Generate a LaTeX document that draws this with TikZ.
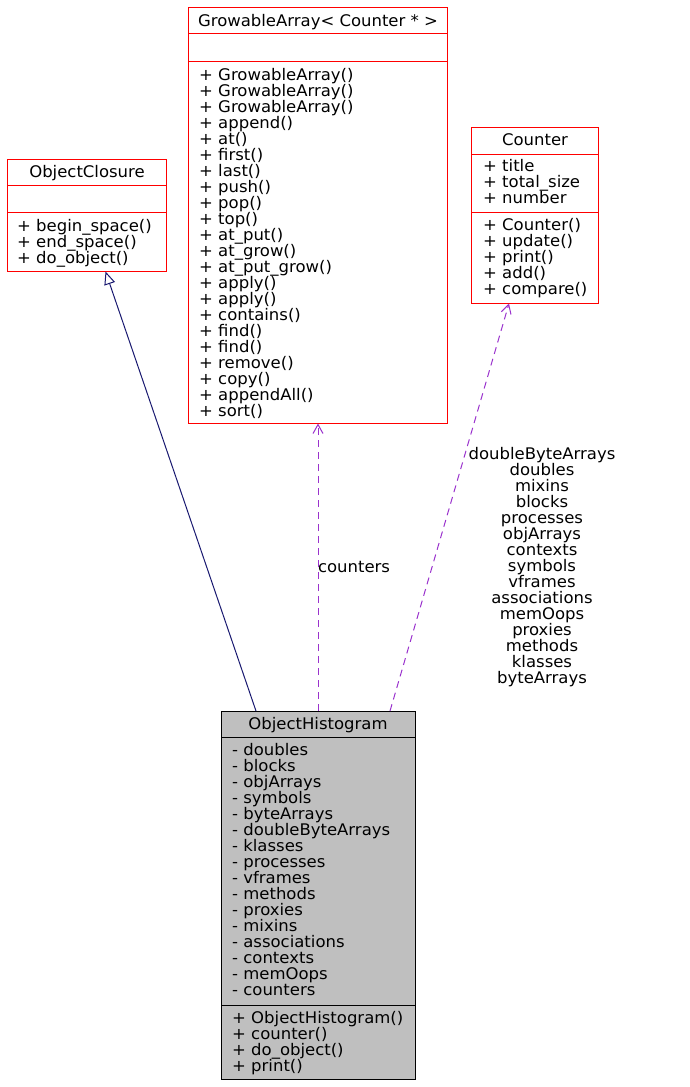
\documentclass[tikz,border=0pt]{standalone}
\usepackage{fontspec}
\setmainfont{DejaVu Sans}[FakeStretch=1.03]
\usetikzlibrary{arrows.meta}
\definecolor{edgeblue}{HTML}{191970}
\definecolor{usagepurple}{HTML}{9A32CD}
\definecolor{histgray}{HTML}{BFBFBF}
\definecolor{boxred}{HTML}{FF0000}
\newcommand{\memberfont}{\fontsize{16}{16}\selectfont}
\newcommand{\firstline}{\rule{0pt}{13pt}}
\lineskiplimit=-20pt

\begin{document}
\begin{tikzpicture}[x=1pt,y=-1pt,
    classbox/.style={inner sep=0pt,outer sep=0pt},
    frame/.style={draw=boxred,line width=1.25pt},
    classname/.style={anchor=base,inner sep=0pt,font=\memberfont},
    members/.style={anchor=north west,inner sep=0pt,align=left,font=\memberfont},
    usage/.style={usagepurple,line width=1pt,dash pattern=on 7pt off 5pt,
        -{Straight Barb[length=9pt,width=10pt]}},
    inherit/.style={edgeblue,line width=1pt,-{Triangle[open,length=13pt,width=11pt]}}]
    \useasboundingbox (0,0) rectangle (690,1087);

    % ObjectClosure
    \node [classbox,minimum width=159pt,minimum height=112pt] (closure) at (87,215.5) {};
    \draw [frame] (closure.north west) rectangle (closure.south east);
    \draw [frame] (7.5,185.5)--(166.5,185.5);
    \draw [frame] (7.5,212.5)--(166.5,212.5);
    \node [classname] (closure-name) at (87,177) {ObjectClosure};
    \node [members] (closure-ops) at (17,218.5) {\firstline+ begin\_space()\\+ end\_space()\\+ do\_object()};

    % GrowableArray< Counter * >
    \node [classbox,minimum width=259pt,minimum height=416pt] (growable) at (318,215.5) {};
    \draw [frame] (growable.north west) rectangle (growable.south east);
    \draw [frame] (188.5,33.5)--(447.5,33.5);
    \draw [frame] (188.5,61.5)--(447.5,61.5);
    \node [classname] (growable-name) at (318,26) {GrowableArray< Counter * >};
    \node [members] (growable-ops) at (199,67) {\firstline+ GrowableArray()\\+ GrowableArray()\\+ GrowableArray()\\+ append()\\+ at()\\+ first()\\+ last()\\+ push()\\+ pop()\\+ top()\\+ at\_put()\\+ at\_grow()\\+ at\_put\_grow()\\+ apply()\\+ apply()\\+ contains()\\+ find()\\+ find()\\+ remove()\\+ copy()\\+ appendAll()\\+ sort()};

    % Counter
    \node [classbox,minimum width=127pt,minimum height=176pt] (counter) at (535,215.5) {};
    \draw [frame] (counter.north west) rectangle (counter.south east);
    \draw [frame] (471.5,154.5)--(598.5,154.5);
    \draw [frame] (471.5,212.5)--(598.5,212.5);
    \node [classname] (counter-name) at (535,145) {Counter};
    \node [members] (counter-attrs) at (483,158) {\firstline+ title\\+ total\_size\\+ number};
    \node [members] (counter-ops) at (483,217) {\firstline+ Counter()\\+ update()\\+ print()\\+ add()\\+ compare()};

    % ObjectHistogram
    \node [draw,fill=histgray,line width=1pt,inner sep=0pt,minimum width=194pt,minimum height=368pt] (hist) at (318.5,895.5) {};
    \draw [line width=1pt] (221.5,737.5)--(415.5,737.5);
    \draw [line width=1pt] (221.5,1005.5)--(415.5,1005.5);
    \node [classname] (hist-name) at (318,729.5) {ObjectHistogram};
    \node [members] (hist-attrs) at (232,742) {\firstline- doubles\\- blocks\\- objArrays\\- symbols\\- byteArrays\\- doubleByteArrays\\- klasses\\- processes\\- vframes\\- methods\\- proxies\\- mixins\\- associations\\- contexts\\- memOops\\- counters};
    \node [members] (hist-ops) at (232,1010) {\firstline+ ObjectHistogram()\\+ counter()\\+ do\_object()\\+ print()};

    % relations
    \draw [inherit] ([xshift=-62.5pt]hist.north)--([xshift=18.5pt]closure.south);
    \draw [usage] ([xshift=-0.5pt]hist.north)--(growable.south);
    \draw [usage] ([xshift=71.5pt]hist.north)--([xshift=-26pt]counter.south);
    \node [classname] (counters-label) at (354,572) {counters};
    \node [members,anchor=north,align=center] (fields-label) at (542,446) {\firstline doubleByteArrays\\doubles\\mixins\\blocks\\processes\\objArrays\\contexts\\symbols\\vframes\\associations\\memOops\\proxies\\methods\\klasses\\byteArrays};
\end{tikzpicture}
\end{document}
